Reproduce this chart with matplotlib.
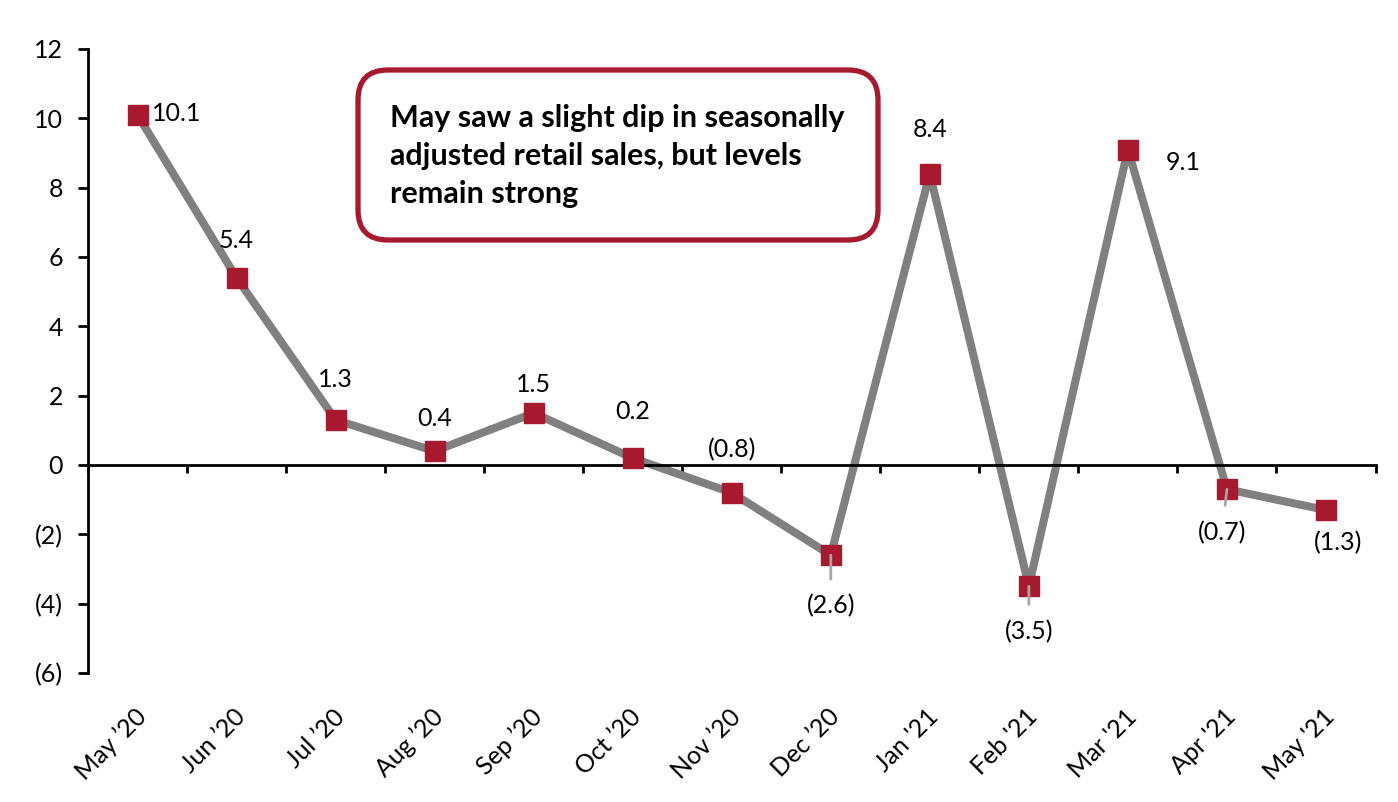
import matplotlib.pyplot as plt
from matplotlib.patches import FancyBboxPatch
from matplotlib.ticker import FuncFormatter

months = ['May \u201920', 'Jun \u201920', 'Jul \u201920', 'Aug \u201920', 'Sep \u201920', 'Oct \u201920',
          'Nov \u201920', 'Dec \u201920', "Jan '21", "Feb '21", "Mar '21", "Apr '21", "May '21"]
values = [10.1, 5.4, 1.3, 0.4, 1.5, 0.2, -0.8, -2.6, 8.4, -3.5, 9.1, -0.7, -1.3]
# label offsets in pixels (dx, dy up) and whether a leader line is drawn
label_dx = [14, 0, 0, 0, 0, 0, 0, 0, 0, 0, 55, -5, 12]
label_dy = [1, 37, 40, 33, 28, 47, 43, -51, 44, -45, -13, -43, -33]
leader = [False, False, False, False, False, False, False, True, False, True, False, True, False]

red = '#A6192E'
grey = '#808080'
plt.rcParams['font.family'] = ['Lato', 'DejaVu Sans']

fig = plt.figure(figsize=(13.98, 8.02), dpi=100)
ax = fig.add_axes([88 / 1398, 1 - 673 / 802, 1287.5 / 1398, 624 / 802])

x = list(range(len(values)))
ax.plot(x, values, color=grey, lw=5.8, zorder=2)
ax.plot(x, values, ls='none', marker='s', ms=15, color=red, zorder=3)

px = 72 / 100
for i, v in enumerate(values):
    s = f'{v:.1f}' if v >= 0 else f'({abs(v):.1f})'
    ha = 'left' if i == 0 else 'center'
    arrow = dict(arrowstyle='-', color='#A6A6A6', lw=2, shrinkA=9, shrinkB=0) if leader[i] else None
    ax.annotate(s, (i, v), xytext=(label_dx[i] * px, label_dy[i] * px), textcoords='offset points',
                ha=ha, va='center', fontsize=18, zorder=4, arrowprops=arrow)

ax.set_xlim(-0.5, 12.5)
ax.set_ylim(-6, 12)
ax.set_yticks(range(-6, 13, 2))
ax.yaxis.set_major_formatter(FuncFormatter(lambda v, p: f'({abs(int(v))})' if v < 0 else f'{int(v)}'))
ax.tick_params(axis='y', labelsize=18, length=7, width=2, pad=11)

ax.spines['top'].set_visible(False)
ax.spines['right'].set_visible(False)
ax.spines['bottom'].set_position(('data', 0))
for sp in ('left', 'bottom'):
    ax.spines[sp].set_linewidth(2)
ax.set_xticks([i + 0.5 for i in range(-1, 13)])
ax.set_xticklabels([])
ax.tick_params(axis='x', length=6, width=2, direction='out')

for i, m in enumerate(months):
    ax.annotate(m, (i, -6), xytext=(5 * px, -40 * px), textcoords='offset points',
                ha='right', va='center', rotation=45, rotation_mode='anchor', fontsize=18)

box = FancyBboxPatch((3.58, (802 - 240) / 100), 5.2, 1.7,
                     boxstyle='round,pad=0,rounding_size=0.3', transform=fig.dpi_scale_trans,
                     facecolor='white', edgecolor=red, lw=3.8, zorder=5)
fig.patches.append(box)
fig.text(390 / 1398, 1 - 156 / 802, 'May saw a slight dip in seasonally\nadjusted retail sales, but levels\nremain strong',
         ha='left', va='center', fontsize=22, fontweight='bold', linespacing=1.45, zorder=6)

fig.savefig('out.png', dpi=100)
